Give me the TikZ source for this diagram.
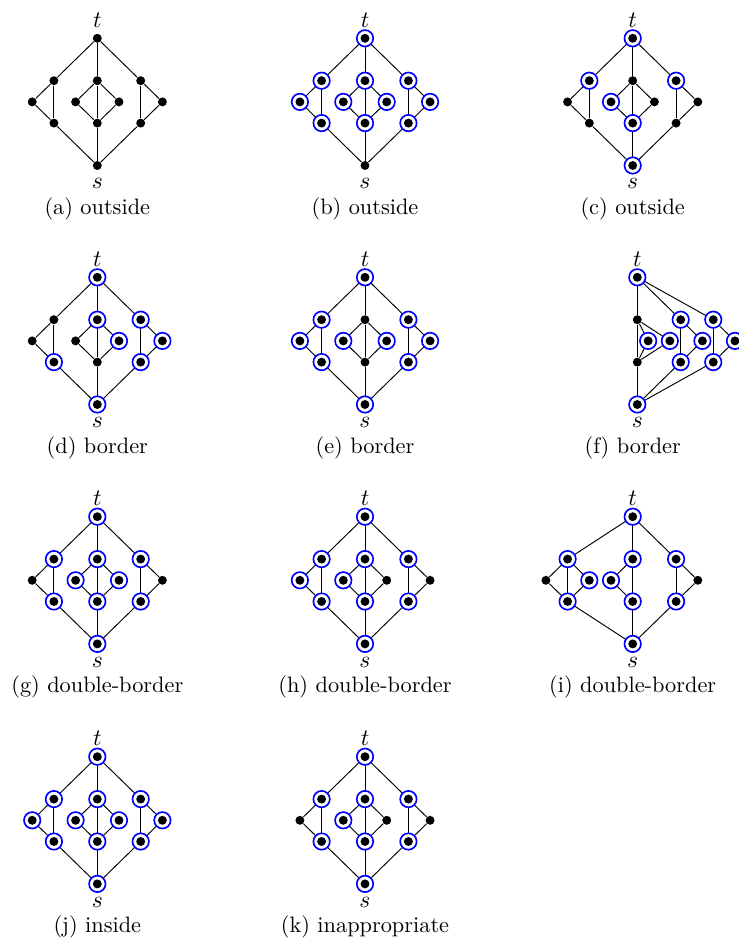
\documentclass[tikz,border=0pt]{standalone}
\usetikzlibrary{calc}

\tikzset{
  vtx/.style={circle, fill=black, inner sep=0pt, minimum size=3.8pt},
  mk/.style={circle, draw=blue, fill=white, line width=0.7pt, inner sep=0pt,
    minimum size=7pt,
    path picture={\fill[black] (path picture bounding box.center) circle (1.9pt);}},
  link/.style={line width=0.4pt},
  lbl/.style={inner sep=0pt, font=\fontsize{9.6}{11}\selectfont},
  captext/.style={anchor=base, inner sep=0pt, font=\fontsize{9.5}{11}\selectfont},
  subunit/.style={x=9.233pt, y=9.02pt}
}

% the standard s-t graph: three groups between t (top) and s (bottom)
\newcommand{\stdgraph}[1]{%
  \node[vtx] (#1-t)  at (0,0)   {};
  \node[vtx] (#1-s)  at (0,-6)  {};
  \node[vtx] (#1-Lu) at (-2,-2) {};
  \node[vtx] (#1-Lm) at (-3,-3) {};
  \node[vtx] (#1-Ll) at (-2,-4) {};
  \node[vtx] (#1-Cu) at (0,-2)  {};
  \node[vtx] (#1-Cw) at (-1,-3) {};
  \node[vtx] (#1-Ce) at (1,-3)  {};
  \node[vtx] (#1-Cl) at (0,-4)  {};
  \node[vtx] (#1-Ru) at (2,-2)  {};
  \node[vtx] (#1-Rm) at (3,-3)  {};
  \node[vtx] (#1-Rl) at (2,-4)  {};
  \draw[link] (#1-t) -- (#1-Lu) -- (#1-Lm) -- (#1-Ll) -- (#1-s);
  \draw[link] (#1-Lu) -- (#1-Ll);
  \draw[link] (#1-t) -- (#1-Cu) -- (#1-Cl) -- (#1-s);
  \draw[link] (#1-Cu) -- (#1-Cw) -- (#1-Cl) -- (#1-Ce) -- (#1-Cu);
  \draw[link] (#1-t) -- (#1-Ru) -- (#1-Rm) -- (#1-Rl) -- (#1-s);
  \draw[link] (#1-Ru) -- (#1-Rl);
}

% terminal labels and caption
\newcommand{\stlabels}[1]{%
  \node[lbl] (#1-tlab) at (0,0.87)  {$t$};
  \node[lbl] (#1-slab) at (0,-6.87) {$s$};
}
\newcommand{\subcap}[3]{\node[captext] (#1-cap) at (#2,-8.3) {#3};}

% ringed (selected) vertices
\newcommand{\ringed}[2]{\foreach \k in {#2}{\node[mk] (#1-\k-m) at (#1-\k) {};}}

\begin{document}
\begin{tikzpicture}[x=0.4255pt, y=-0.4255pt]
\path[use as bounding box] (0,0) rectangle (739,942);

% (a)
\begin{scope}[shift={(97.3,38.3)}, subunit]
  \stdgraph{a}\stlabels{a}\subcap{a}{0}{(a) outside}
\end{scope}
% (b)
\begin{scope}[shift={(365,38.3)}, subunit]
  \stdgraph{b}\stlabels{b}\subcap{b}{0}{(b) outside}
  \ringed{b}{t,Lu,Lm,Ll,Cu,Cw,Ce,Cl,Ru,Rm,Rl}
\end{scope}
% (c)
\begin{scope}[shift={(632.7,38.3)}, subunit]
  \stdgraph{c}\stlabels{c}\subcap{c}{0}{(c) outside}
  \ringed{c}{t,Lu,Cw,Cl,Ru,s}
\end{scope}

% (d)
\begin{scope}[shift={(97.3,277.3)}, subunit]
  \stdgraph{d}\stlabels{d}\subcap{d}{0}{(d) border}
  \ringed{d}{t,Ll,Cu,Ce,Ru,Rm,Rl,s}
\end{scope}
% (e)
\begin{scope}[shift={(365,277.3)}, subunit]
  \stdgraph{e}\stlabels{e}\subcap{e}{0}{(e) border}
  \ringed{e}{t,Lu,Lm,Ll,Cw,Ce,Ru,Rm,Rl,s}
\end{scope}
% (f): the first group collapsed onto the t-s line
\begin{scope}[shift={(637.3,277.3)}, subunit]
  \node[vtx] (f-t)  at (0,0)     {};
  \node[vtx] (f-s)  at (0,-6)    {};
  \node[vtx] (f-Au) at (0,-2)    {};
  \node[vtx] (f-Al) at (0,-4)    {};
  \node[vtx] (f-Aw) at (0.5,-3)  {};
  \node[vtx] (f-Ae) at (1.5,-3)  {};
  \node[vtx] (f-Bu) at (2,-2)    {};
  \node[vtx] (f-Bm) at (3,-3)    {};
  \node[vtx] (f-Bl) at (2,-4)    {};
  \node[vtx] (f-Du) at (3.5,-2)  {};
  \node[vtx] (f-Dm) at (4.5,-3)  {};
  \node[vtx] (f-Dl) at (3.5,-4)  {};
  \draw[link] (f-t) -- (f-Au) -- (f-Al) -- (f-s);
  \draw[link] (f-Au) -- (f-Aw) -- (f-Al);
  \draw[link] (f-Au) -- (f-Ae) -- (f-Al);
  \draw[link] (f-t) -- (f-Bu) -- (f-Bm) -- (f-Bl) -- (f-s);
  \draw[link] (f-Bu) -- (f-Bl);
  \draw[link] (f-t) -- (f-Du) -- (f-Dm) -- (f-Dl) -- (f-s);
  \draw[link] (f-Du) -- (f-Dl);
  \stlabels{f}\subcap{f}{-0.21}{(f) border}
  \ringed{f}{t,s,Aw,Ae,Bu,Bm,Bl,Du,Dm,Dl}
\end{scope}

% (g)
\begin{scope}[shift={(97.3,516.7)}, subunit]
  \stdgraph{g}\stlabels{g}\subcap{g}{0}{(g) double-border}
  \ringed{g}{t,Lu,Ll,Cu,Cw,Ce,Cl,Ru,Rl,s}
\end{scope}
% (h)
\begin{scope}[shift={(365,516.7)}, subunit]
  \stdgraph{h}\stlabels{h}\subcap{h}{0}{(h) double-border}
  \ringed{h}{t,Lu,Lm,Ll,Cu,Cw,Cl,Ru,Rl,s}
\end{scope}
% (i): left group widened to a diamond, centre group without its right vertex
\begin{scope}[shift={(632.7,516.7)}, subunit]
  \node[vtx] (i-t)  at (0,0)   {};
  \node[vtx] (i-s)  at (0,-6)  {};
  \node[vtx] (i-Lu) at (-3,-2) {};
  \node[vtx] (i-Lw) at (-4,-3) {};
  \node[vtx] (i-Le) at (-2,-3) {};
  \node[vtx] (i-Ll) at (-3,-4) {};
  \node[vtx] (i-Cu) at (0,-2)  {};
  \node[vtx] (i-Cw) at (-1,-3) {};
  \node[vtx] (i-Cl) at (0,-4)  {};
  \node[vtx] (i-Ru) at (2,-2)  {};
  \node[vtx] (i-Rm) at (3,-3)  {};
  \node[vtx] (i-Rl) at (2,-4)  {};
  \draw[link] (i-t) -- (i-Lu) -- (i-Lw) -- (i-Ll) -- (i-s);
  \draw[link] (i-Lu) -- (i-Le) -- (i-Ll);
  \draw[link] (i-Lu) -- (i-Ll);
  \draw[link] (i-t) -- (i-Cu) -- (i-Cl) -- (i-s);
  \draw[link] (i-Cu) -- (i-Cw) -- (i-Cl);
  \draw[link] (i-t) -- (i-Ru) -- (i-Rm) -- (i-Rl) -- (i-s);
  \draw[link] (i-Ru) -- (i-Rl);
  \stlabels{i}\subcap{i}{0}{(i) double-border}
  \ringed{i}{t,Lu,Ll,Le,Cu,Cw,Cl,Ru,Rl,s}
\end{scope}

% (j)
\begin{scope}[shift={(97.3,756.7)}, subunit]
  \stdgraph{j}\stlabels{j}\subcap{j}{0}{(j) inside}
  \ringed{j}{t,Lu,Lm,Ll,Cu,Cw,Ce,Cl,Ru,Rm,Rl,s}
\end{scope}
% (k)
\begin{scope}[shift={(365,756.7)}, subunit]
  \stdgraph{k}\stlabels{k}\subcap{k}{0}{(k) inappropriate}
  \ringed{k}{t,Lu,Ll,Cu,Cw,Cl,Ru,Rl,s}
\end{scope}
\end{tikzpicture}
\end{document}
